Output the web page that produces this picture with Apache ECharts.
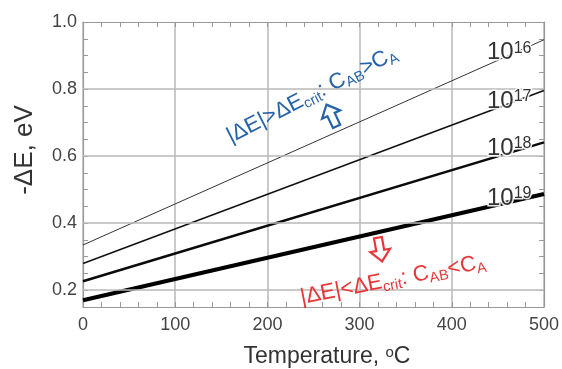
<!DOCTYPE html>
<html>
<head>
<meta charset="utf-8">
<script src="https://cdn.jsdelivr.net/npm/echarts@6/dist/echarts.min.js"></script>
<style>html,body{margin:0;padding:0;background:#fff;}#c{width:562px;height:369px;}</style>
</head>
<body>
<div id="c"></div>
<script>
// ---- data ----
const temps = [0, 500];                 // °C
const e16 = [0.335, 0.947];             // -ΔE for 10^16
const e17 = [0.280, 0.796];             // 10^17
const e18 = [0.227, 0.641];             // 10^18
const e19 = [0.170, 0.487];             // 10^19
const seriesNames = ['10^16', '10^17', '10^18', '10^19'];
const yGridTicks = [0.2, 0.4, 0.6, 0.8];
const xTickLabels = [0, 100, 200, 300, 400, 500];

const FONT = '"Liberation Sans", Arial, Helvetica, sans-serif';
const chart = echarts.init(document.getElementById('c'), null, {renderer: 'canvas'});

function pairs(xs, ys) { return xs.map((x, i) => [x, ys[i]]); }

const widths = [1, 1.6, 2.6, 4];
const colors = ['#333', '#111', '#0a0a0a', '#000'];
const allY = [e16, e17, e18, e19];

const series = [{
  type: 'line', data: [], silent: true, z: 1,
  markLine: {
    silent: true, symbol: 'none', label: {show: false},
    lineStyle: {color: '#b8b8b8', width: 1.5, type: 'solid'},
    data: yGridTicks.map(v => ({yAxis: v}))
  }
}];
allY.forEach((ys, i) => {
  series.push({
    name: seriesNames[i], type: 'line', data: pairs(temps, ys),
    showSymbol: false, symbol: 'none', silent: true, z: 3,
    lineStyle: {color: colors[i], width: widths[i]}
  });
});

const tickStyle = {color: '#999', width: 1};
const baseX = {
  type: 'value', min: 0, max: 500, interval: 100,
  axisLine: {show: true, onZero: false, lineStyle: {color: '#999', width: 1.2}},
  axisTick: {show: true, inside: true, length: 5, lineStyle: tickStyle},
  minorTick: {show: true, splitNumber: 5, length: 5, lineStyle: tickStyle}
};
const baseY = {
  type: 'value', min: 0.15, max: 1.0, interval: 0.05,
  axisLine: {show: true, onZero: false, lineStyle: {color: '#999', width: 1.2}},
  axisTick: {show: true, inside: true, length: 5, lineStyle: tickStyle},
  splitLine: {show: false}
};

const richAnno = (color) => ({
  m: {fontSize: 22, fontFamily: FONT, fill: color, lineHeight: 26},
  s: {fontSize: 14.5, fontFamily: FONT, fill: color, lineHeight: 13, verticalAlign: 'bottom'}
});
const HALO = 'rgba(255,255,255,0.9)';
const richExp = {
  b: {fontSize: 24, fontFamily: FONT, fill: '#333', lineHeight: 24, stroke: HALO, lineWidth: 3},
  p: {fontSize: 16, fontFamily: FONT, fill: '#333', lineHeight: 16, verticalAlign: 'top', stroke: HALO, lineWidth: 3}
};
const expLabels = [
  {t: '{b|10}{p|16}', y: 52.5},
  {t: '{b|10}{p|17}', y: 101},
  {t: '{b|10}{p|18}', y: 148},
  {t: '{b|10}{p|19}', y: 198}
];

function arrow(cx, cy, rot, color, down) {
  const s = down ? -1 : 1;
  const pts = [[0,-12],[10,-1],[4,-1],[4,12],[-4,12],[-4,-1],[-10,-1]].map(p => [p[0], p[1]*s]);
  return {
    type: 'polygon', x: cx, y: cy, rotation: rot, silent: true, z: 10,
    shape: {points: pts},
    style: {fill: '#fff', stroke: color, lineWidth: 2.2, lineJoin: 'miter'}
  };
}

const BLUE = '#2763a8', RED = '#e8373a';
const graphics = [
  {type: 'text', x: 25, y: 150, rotation: Math.PI/2, silent: true,
   style: {text: '-ΔE, eV', font: '26px ' + FONT, fill: '#333', align: 'center', verticalAlign: 'middle', textAlign: 'center', textVerticalAlign: 'middle'}},
  {type: 'text', x: 327, y: 357, silent: true,
   style: {text: '{m|Temperature, }{o|o}{m|C}', align: 'center', verticalAlign: 'middle', textAlign: 'center', textVerticalAlign: 'middle',
     rich: {m: {fontSize: 23, fontFamily: FONT, fill: '#333', lineHeight: 24},
            o: {fontSize: 15, fontFamily: FONT, fill: '#333', lineHeight: 16, verticalAlign: 'top'}}}},
  {type: 'text', x: 312, y: 95, rotation: 27*Math.PI/180, silent: true, z: 10,
   style: {text: '{m||ΔE|>ΔE}{s|crit}{m|: C}{s|AB}{m|>C}{s|A}', align: 'center', verticalAlign: 'middle', textAlign: 'center', textVerticalAlign: 'middle', rich: richAnno(BLUE)}},
  {type: 'text', x: 393, y: 280, rotation: 11*Math.PI/180, silent: true, z: 10,
   style: {text: '{m||ΔE|<ΔE}{s|crit}{m|: C}{s|AB}{m|<C}{s|A}', align: 'center', verticalAlign: 'middle', textAlign: 'center', textVerticalAlign: 'middle', rich: richAnno(RED)}},
  arrow(331.5, 115.5, 25*Math.PI/180, BLUE, false),
  arrow(380, 249.5, 10*Math.PI/180, RED, true)
];
expLabels.forEach(l => {
  graphics.push({type: 'text', x: 487, y: l.y, silent: true, z: 8,
    style: {text: l.t, align: 'left', verticalAlign: 'middle', textAlign: 'left', textVerticalAlign: 'middle', rich: richExp}});
});

chart.setOption({
  animation: false,
  backgroundColor: '#fff',
  grid: {left: 83, right: 16, top: 22, bottom: 62},
  xAxis: [
    Object.assign({}, baseX, {
      position: 'bottom',
      axisLabel: {show: true, color: '#444', fontSize: 18, fontFamily: FONT, margin: 9,
        formatter: v => (xTickLabels.indexOf(v) >= 0 ? String(v) : '')},
      splitLine: {show: true, lineStyle: {color: '#b8b8b8', width: 1.5}}
    }),
    Object.assign({}, baseX, {position: 'top', axisLabel: {show: false}, splitLine: {show: false}})
  ],
  yAxis: [
    Object.assign({}, baseY, {
      position: 'left',
      axisLabel: {show: true, color: '#444', fontSize: 18, fontFamily: FONT, margin: 6,
        formatter: v => { const k = v * 5; return Math.abs(k - Math.round(k)) < 1e-6 ? v.toFixed(1) : ''; }}
    }),
    Object.assign({}, baseY, {position: 'right', axisLabel: {show: false}})
  ],
  series: series,
  graphic: graphics
});
</script>
</body>
</html>
